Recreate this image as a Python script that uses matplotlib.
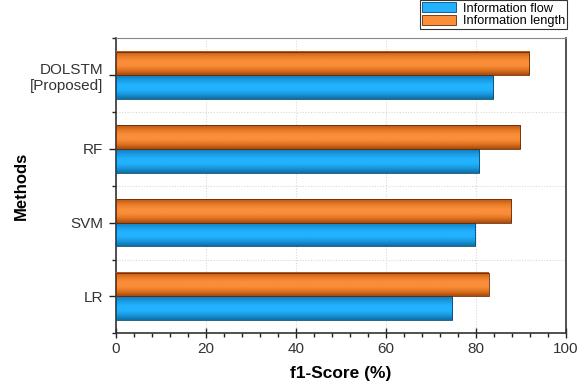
import numpy as np
import matplotlib
matplotlib.use("Agg")
import matplotlib.pyplot as plt
from matplotlib.colors import LinearSegmentedColormap
from matplotlib.ticker import MultipleLocator, FixedLocator

plt.rcParams['font.family'] = ['Liberation Sans', 'DejaVu Sans']

methods = ["LR", "SVM", "RF", "DOLSTM\n[Proposed]"]
info_flow = [74.7, 79.8, 80.7, 83.8]
info_length = [82.8, 87.8, 89.8, 91.8]
series_labels = ["Information flow", "Information length"]
xticks = [0, 20, 40, 60, 80, 100]

blue_cmap = LinearSegmentedColormap.from_list(
    "b", ["#0C6FA8", "#1A98DD", "#22B2FF", "#22B2FF", "#1A9BE2", "#1279B8"])
orange_cmap = LinearSegmentedColormap.from_list(
    "o", ["#A84A0C", "#E0741F", "#FA8E3A", "#FA8E3A", "#E57A25", "#B8561A"])

fig = plt.figure(figsize=(5.84, 3.83), dpi=100)
ax = fig.add_axes([116/584, 1-333.3/383, 450/584, 295/383])

y = np.arange(len(methods))
h = 0.32
bars_flow = ax.barh(y - h/2, info_flow, height=h, color="#22B2FF",
                    edgecolor="#0A4A70", linewidth=0.6, zorder=3,
                    label=series_labels[0])
bars_len = ax.barh(y + h/2, info_length, height=h, color="#FA8E3A",
                   edgecolor="#6A2A05", linewidth=0.6, zorder=3,
                   label=series_labels[1])

grad = np.linspace(0, 1, 64).reshape(-1, 1)
for bars, cmap in ((bars_flow, blue_cmap), (bars_len, orange_cmap)):
    for r in bars:
        x0, y0, w, hh = r.get_x(), r.get_y(), r.get_width(), r.get_height()
        ax.imshow(grad, extent=[x0, x0 + w, y0, y0 + hh], origin='lower',
                  aspect='auto', cmap=cmap, zorder=3.5, interpolation='bilinear')
        r.set_facecolor('none')
        r.set_zorder(4)

ax.set_xlim(0, 100)
ax.set_ylim(-0.5, len(methods) - 0.5)
ax.set_xticks(xticks)
ax.xaxis.set_minor_locator(MultipleLocator(4))
ax.set_yticks(y)
ax.set_yticklabels(methods)
ax.yaxis.set_minor_locator(FixedLocator(np.arange(-0.5, len(methods), 1.0)))

ax.tick_params(axis='x', which='major', direction='inout', length=7, width=1,
               labelsize=11, colors='#222222', pad=3)
ax.tick_params(axis='x', which='minor', direction='out', length=3, width=1,
               colors='#222222')
ax.tick_params(axis='y', which='major', direction='out', length=5, width=1,
               labelsize=11, colors='#222222', pad=4)
ax.tick_params(axis='y', which='minor', direction='out', length=3, width=1,
               colors='#222222')
for lbl in ax.get_xticklabels() + ax.get_yticklabels():
    lbl.set_color('#333333')

ax.grid(True, axis='x', which='major', linestyle=(0, (1, 1.5)), color='#d8d8d8',
        linewidth=0.8, zorder=0)
ax.grid(True, axis='y', which='minor', linestyle=(0, (1, 1.5)), color='#d8d8d8',
        linewidth=0.8, zorder=0)
ax.set_axisbelow(True)

for side in ('left', 'bottom', 'right'):
    ax.spines[side].set_color('#333333')
    ax.spines[side].set_linewidth(1.2)
ax.spines['top'].set_color('#888888')
ax.spines['top'].set_linewidth(0.8)

ax.set_xlabel("f1-Score (%)", fontsize=12.5, fontweight='bold', labelpad=7)
ax.set_ylabel("Methods", fontsize=12, fontweight='bold')
ax.yaxis.set_label_coords(-0.193, 0.5)

handles = [bars_flow, bars_len]
leg = fig.legend(handles, series_labels, loc='upper right',
                 bbox_to_anchor=(567/584, 1 - 0.5/383), fontsize=9.2,
                 frameon=True, fancybox=False, edgecolor='black',
                 handlelength=2.7, handleheight=0.8, handletextpad=0.5,
                 borderpad=0.15, labelspacing=0.0, borderaxespad=0)
leg.get_frame().set_linewidth(0.8)
for hnd, c in zip(leg.legend_handles, ["#22B2FF", "#FA8E3A"]):
    hnd.set_facecolor(c)

fig.savefig("out.png", dpi=100)
